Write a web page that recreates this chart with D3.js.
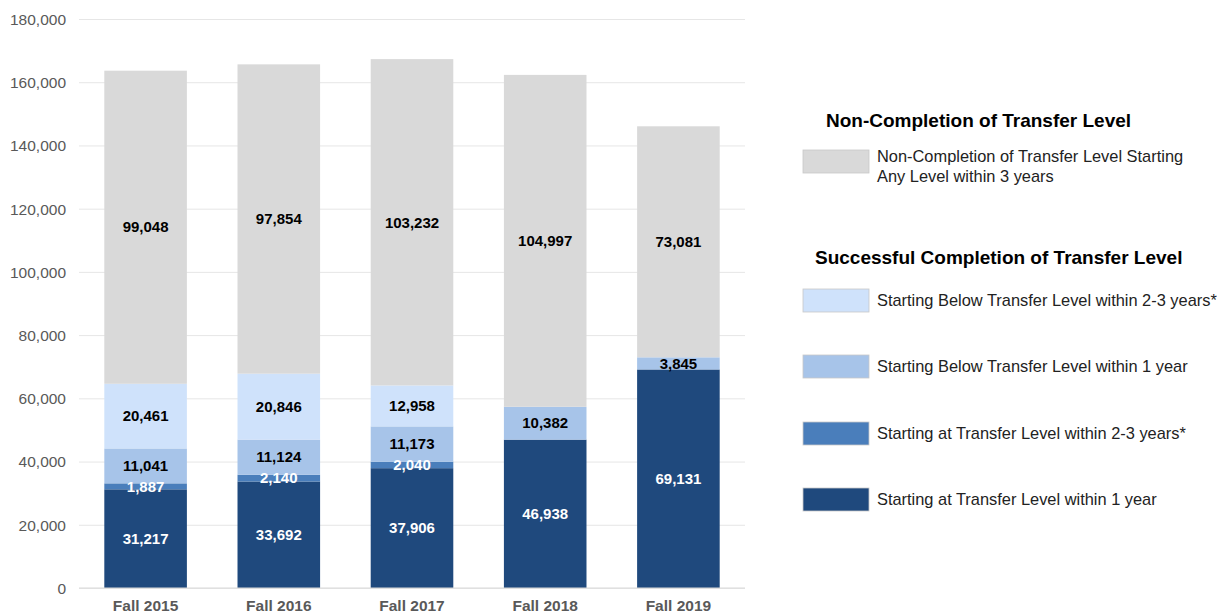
<!DOCTYPE html>
<html>
<head>
  <meta charset="UTF-8"/>
  <title>Transfer Level Completion</title>
  <style>
    body { margin: 0; background: #fff; font-family: 'Liberation Sans', Arial, sans-serif; }
    .tick text { font-size: 15.5px; fill: #595959; }
    .xlab { font-size: 15.5px; font-weight: bold; fill: #595959; }
    .val { font-size: 15px; font-weight: bold; }
    .legtitle { font-size: 19px; font-weight: bold; fill: #000; }
    .legtext { font-size: 16.4px; fill: #222; }
  </style>
  <script src="https://d3js.org/d3.v7.min.js"></script>
</head>
<body>
<svg width="1217" height="613"></svg>
<script>
var terms = ["Fall 2015", "Fall 2016", "Fall 2017", "Fall 2018", "Fall 2019"];

// bottom to top
var atTransfer1yr   = [31217, 33692, 37906, 46938, 69131];
var atTransfer23yr  = [1887, 2140, 2040, 0, 0];
var below1yr        = [11041, 11124, 11173, 10382, 3845];
var below23yr       = [20461, 20846, 12958, 0, 0];
var nonCompletion   = [99048, 97854, 103232, 104997, 73081];

var yTicks = [0, 20000, 40000, 60000, 80000, 100000, 120000, 140000, 160000, 180000];

var series = [
  {key: "at1", values: atTransfer1yr, color: "#1f497d", text: "#fff", label: "Starting at Transfer Level within 1 year"},
  {key: "at23", values: atTransfer23yr, color: "#4a7ebb", text: "#fff", label: "Starting at Transfer Level within 2-3 years*"},
  {key: "bl1", values: below1yr, color: "#a7c4e9", text: "#000", label: "Starting Below Transfer Level within 1 year"},
  {key: "bl23", values: below23yr, color: "#cfe2fb", text: "#000", label: "Starting Below Transfer Level within 2-3 years*"},
  {key: "non", values: nonCompletion, color: "#d9d9d9", text: "#000", label: ["Non-Completion of Transfer Level Starting", "Any Level within 3 years"]}
];

var svg = d3.select("svg");
var plotLeft = 79, plotRight = 745, plotTop = 19, plotBottom = 588;

var x = d3.scaleBand().domain(terms).range([plotLeft, plotRight]).paddingInner(0.38).paddingOuter(0.19);
var y = d3.scaleLinear().domain([0, 180000]).range([plotBottom, plotTop]);

// grid
var yAxis = svg.append("g")
  .attr("transform", "translate(" + plotLeft + ",0)")
  .call(d3.axisLeft(y).tickValues(yTicks).tickSize(-(plotRight - plotLeft)).tickPadding(13).tickFormat(d3.format(",")));
yAxis.select(".domain").remove();
yAxis.selectAll(".tick line").attr("stroke", "#e6e6e6");
yAxis.selectAll(".tick text").attr("dy", "0.35em").attr("font-size", null).attr("font-family", null);

// stack data
var rows = terms.map(function(t, i) {
  var r = {term: t};
  series.forEach(function(s) { r[s.key] = s.values[i]; });
  return r;
});
var stack = d3.stack().keys(series.map(function(s) { return s.key; }))(rows);

var layers = svg.selectAll(".layer")
  .data(stack)
  .enter().append("g")
  .attr("class", "layer");

layers.each(function(layer, li) {
  var s = series[li];
  d3.select(this).selectAll("rect")
    .data(layer.filter(function(d) { return d[1] - d[0] > 0; }))
    .enter().append("rect")
    .attr("x", function(d) { return x(d.data.term); })
    .attr("width", x.bandwidth())
    .attr("y", function(d) { return y(d[1]); })
    .attr("height", function(d) { return y(d[0]) - y(d[1]); })
    .attr("fill", s.color);
});

// labels on top of all bars
stack.forEach(function(layer, li) {
  var s = series[li];
  svg.selectAll(".val-" + s.key)
    .data(layer.filter(function(d) { return d[1] - d[0] > 0; }))
    .enter().append("text")
    .attr("class", "val")
    .attr("x", function(d) { return x(d.data.term) + x.bandwidth() / 2; })
    .attr("y", function(d) { return (y(d[0]) + y(d[1])) / 2; })
    .attr("dy", "0.35em")
    .attr("text-anchor", "middle")
    .attr("fill", s.text)
    .text(function(d) { return d3.format(",")(d[1] - d[0]); });
});

// baseline
svg.append("line")
  .attr("x1", plotLeft).attr("x2", plotRight)
  .attr("y1", plotBottom).attr("y2", plotBottom)
  .attr("stroke", "#d9d9d9");

// x labels
svg.selectAll(".xlab")
  .data(terms)
  .enter().append("text")
  .attr("class", "xlab")
  .attr("x", function(d) { return x(d) + x.bandwidth() / 2; })
  .attr("y", 611)
  .attr("text-anchor", "middle")
  .text(function(d) { return d; });

// legend
var leg = svg.append("g");
leg.append("text").attr("class", "legtitle").attr("x", 826).attr("y", 127).text("Non-Completion of Transfer Level");
leg.append("text").attr("class", "legtitle").attr("x", 815).attr("y", 264).text("Successful Completion of Transfer Level");

var legItems = [
  {s: series[4], y: 150},
  {s: series[3], y: 289},
  {s: series[2], y: 355},
  {s: series[1], y: 422},
  {s: series[0], y: 488}
];
legItems.forEach(function(it) {
  leg.append("rect")
    .attr("x", 803).attr("y", it.y)
    .attr("width", 66).attr("height", 23)
    .attr("fill", it.s.color)
    .attr("stroke", "#c8c8c8").attr("stroke-width", 0.8);
  var lines = Array.isArray(it.s.label) ? it.s.label : [it.s.label];
  var t = leg.append("text").attr("class", "legtext").attr("x", 877).attr("y", it.y + (lines.length > 1 ? 12 : 17));
  lines.forEach(function(l, i) {
    t.append("tspan").attr("x", 877).attr("dy", i === 0 ? 0 : 20).text(l);
  });
});
</script>
</body>
</html>
